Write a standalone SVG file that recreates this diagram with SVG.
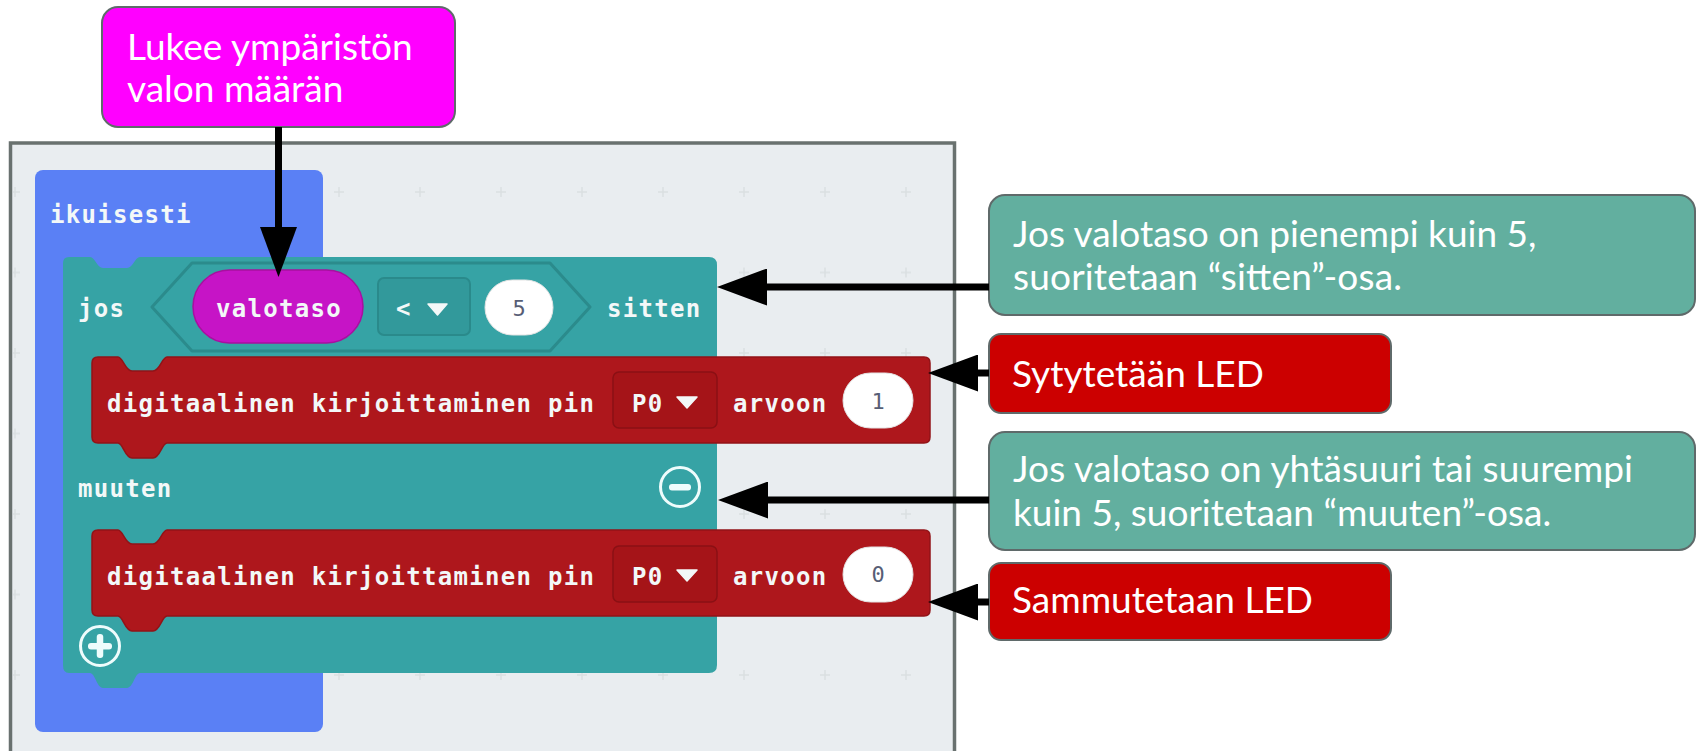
<svg xmlns="http://www.w3.org/2000/svg" width="1697" height="751" viewBox="0 0 1697 751">
  <style>
    .note { font-family: Lato, "Open Sans", sans-serif; font-size: 37px; fill: #ffffff; }
    .note-box { stroke: #5f6a6a; stroke-width: 2; }
    .blk { font-family: "DejaVu Sans Mono", "Liberation Mono", monospace; font-weight: bold; font-size: 24px; letter-spacing: 1.3px; fill: #f3f8f8; }
    .num { font-family: "DejaVu Sans Mono", "Liberation Mono", monospace; font-size: 22px; fill: #575e75; text-anchor: middle; }
    .pill { fill: #ffffff; stroke: #e4e4e4; stroke-width: 1; }
    .red { fill: #ae171c; stroke: #921317; stroke-width: 1.5; }
    .red-dd { fill: #a51418; stroke: #8a1014; stroke-width: 1.5; }
    .teal-dd { fill: #32999b; stroke: #2a8a8b; stroke-width: 2; }
    .arrow { stroke: #000000; stroke-width: 7; fill: none; marker-end: url(#head); }
    .icon { fill: none; stroke: #eefcfc; stroke-width: 3; }
  </style>
  <defs>
    <marker id="head" viewBox="0 0 50 37" markerWidth="50" markerHeight="37" markerUnits="userSpaceOnUse" refX="5" refY="18.5" orient="auto">
      <path d="M0,0 L50,18.5 L0,37 Z" fill="#000000"/>
    </marker>
    <pattern id="grid" x="15" y="31" width="81" height="80.5" patternUnits="userSpaceOnUse">
      <path d="M-5,0 H5 M0,-5 V5 M76,0 H86 M81,-5 V5 M-5,80.5 H5 M0,75.5 V85.5 M76,80.5 H86 M81,75.5 V85.5" stroke="#dadfe2" stroke-width="1.5"/>
    </pattern>
  </defs>

  <rect width="1697" height="751" fill="#ffffff"/>

  <!-- workspace panel -->
  <g id="workspace">
    <rect x="10.5" y="143" width="944" height="610" fill="#e9edf0" stroke="#69716f" stroke-width="3.5"/>
    <rect x="13" y="146" width="939" height="604" fill="url(#grid)"/>
  </g>

  <!-- forever block -->
  <g id="forever">
    <rect x="35" y="170" width="288" height="562" rx="8" fill="#5a80f5"/>
    <text class="blk" x="50" y="223">ikuisesti</text>
  </g>

  <!-- if / else block -->
  <g id="if-else">
    <path d="M69,257 H90 C95,257 97,268 103,268 H127 C133,268 135,257 140,257 H709 Q717,257 717,265 V665 Q717,673 709,673 H140 C135,673 133,688 127,688 H103 C97,688 95,673 90,673 H69 Q63,673 63,665 V263 Q63,257 69,257 Z" fill="#36a3a5"/>
    <text class="blk" x="78" y="317">jos</text>
    <polygon points="152,307 192,263 550,263 590,307 550,351 192,351" fill="#36a3a5" stroke="#2b8b8c" stroke-width="3" stroke-linejoin="round"/>
    <text class="blk" x="607" y="317">sitten</text>
    <text class="blk" x="78" y="497">muuten</text>
    <circle class="icon" cx="680" cy="487" r="19.5"/>
    <rect x="669" y="484" width="22" height="6.5" rx="3" fill="#eefcfc"/>
    <circle class="icon" cx="100" cy="646" r="19.5"/>
    <rect x="88" y="643" width="24" height="6.5" rx="3" fill="#eefcfc"/>
    <rect x="96.75" y="634" width="6.5" height="24" rx="3" fill="#eefcfc"/>
  </g>

  <!-- light level reporter -->
  <g id="light-level">
    <rect x="193" y="270" width="170" height="73" rx="36.5" fill="#c614c6" stroke="#a8109f" stroke-width="1.5"/>
    <text class="blk" x="216" y="317" fill="#fbe9fb">valotaso</text>
  </g>

  <!-- comparison operator -->
  <g id="operator">
    <rect class="teal-dd" x="378" y="278" width="92" height="57" rx="6"/>
    <text class="blk" x="396" y="317">&lt;</text>
    <polygon points="428,304 447,304 437.5,315" fill="#f3f8f8" stroke="#f3f8f8" stroke-width="1.5" stroke-linejoin="round"/>
  </g>

  <g id="threshold">
    <rect class="pill" x="485" y="280" width="68" height="55" rx="27.5"/>
    <text class="num" x="519" y="316">5</text>
  </g>

  <!-- digital write, pin on -->
  <g id="write-on">
    <path class="red" d="M98,357 H118 C123,357 125,371 132,371 H153 C160,371 162,357 167,357 H924 Q930,357 930,363 V437 Q930,443 924,443 H167 C162,443 160,458 153,458 H132 C125,458 123,443 118,443 H98 Q92,443 92,437 V363 Q92,357 98,357 Z"/>
    <text class="blk" x="107" y="412">digitaalinen kirjoittaminen pin</text>
    <rect class="red-dd" x="613" y="372" width="104" height="56" rx="6"/>
    <text class="blk" x="632" y="412">P0</text>
    <polygon points="677,397 697,397 687,408" fill="#f3f8f8" stroke="#f3f8f8" stroke-width="1.5" stroke-linejoin="round"/>
    <text class="blk" x="733" y="412">arvoon</text>
    <rect class="pill" x="843" y="373" width="70" height="55" rx="27.5"/>
    <text class="num" x="878" y="409">1</text>
  </g>

  <!-- digital write, pin off -->
  <g id="write-off">
    <path class="red" d="M98,530 H118 C123,530 125,544 132,544 H153 C160,544 162,530 167,530 H924 Q930,530 930,536 V610 Q930,616 924,616 H167 C162,616 160,631 153,631 H132 C125,631 123,616 118,616 H98 Q92,616 92,610 V536 Q92,530 98,530 Z"/>
    <text class="blk" x="107" y="585">digitaalinen kirjoittaminen pin</text>
    <rect class="red-dd" x="613" y="546" width="104" height="56" rx="6"/>
    <text class="blk" x="632" y="585">P0</text>
    <polygon points="677,570 697,570 687,581" fill="#f3f8f8" stroke="#f3f8f8" stroke-width="1.5" stroke-linejoin="round"/>
    <text class="blk" x="733" y="585">arvoon</text>
    <rect class="pill" x="843" y="547" width="70" height="55" rx="27.5"/>
    <text class="num" x="878" y="582">0</text>
  </g>

  <!-- callouts -->
  <g id="note-sensor">
    <rect class="note-box" x="102" y="7" width="353" height="120" rx="16" fill="#ff00ff"/>
    <text class="note" x="127" y="60">Lukee ympäristön</text>
    <text class="note" x="127" y="102">valon määrän</text>
  </g>

  <g id="note-then">
    <rect class="note-box" x="989" y="195" width="706" height="120" rx="16" fill="#62af9f"/>
    <text class="note" x="1013" y="247">Jos valotaso on pienempi kuin 5,</text>
    <text class="note" x="1013" y="290" textLength="389" lengthAdjust="spacing">suoritetaan “sitten”-osa.</text>
  </g>

  <g id="note-on">
    <rect class="note-box" x="989" y="334" width="402" height="79" rx="12" fill="#cc0000"/>
    <text class="note" x="1012" y="387">Sytytetään LED</text>
  </g>

  <g id="note-else">
    <rect class="note-box" x="989" y="432" width="706" height="118" rx="16" fill="#62af9f"/>
    <text class="note" x="1013" y="482" textLength="620" lengthAdjust="spacing">Jos valotaso on yhtäsuuri tai suurempi</text>
    <text class="note" x="1013" y="526">kuin 5, suoritetaan “muuten”-osa.</text>
  </g>

  <g id="note-off">
    <rect class="note-box" x="989" y="563" width="402" height="77" rx="12" fill="#cc0000"/>
    <text class="note" x="1012" y="613">Sammutetaan LED</text>
  </g>

  <!-- connectors -->
  <g id="connectors">
    <line class="arrow" x1="278.5" y1="127" x2="278.5" y2="232"/>
    <line class="arrow" x1="989" y1="287" x2="762" y2="287"/>
    <line class="arrow" x1="989" y1="373" x2="973" y2="373"/>
    <line class="arrow" x1="989" y1="500" x2="763" y2="500"/>
    <line class="arrow" x1="989" y1="602" x2="973" y2="602"/>
  </g>
</svg>
